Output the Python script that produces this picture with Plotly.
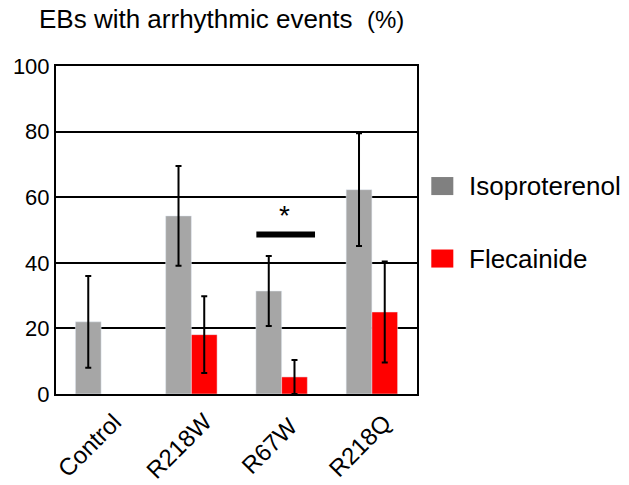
import plotly.graph_objects as go

categories = ["Control", "R218W", "R67W", "R218Q"]
iso_values = [22.0, 54.3, 31.4, 62.3]
iso_errors = [14.0, 15.2, 10.7, 17.2]
fle_values = [None, 18.1, 5.2, 25.0]
fle_errors = [None, 11.7, 5.2, 15.4]
series_names = ["Isoproterenol", "Flecainide"]
y_ticks = [0, 20, 40, 60, 80, 100]

GRAY = "#a6a6a6"
RED = "#ff0000"
FONT = "Liberation Sans, Arial, sans-serif"

fig = go.Figure()
fig.add_trace(go.Bar(
    x=categories, y=iso_values, name=series_names[0], marker_color=GRAY,
    error_y=dict(type="data", array=iso_errors, color="black", thickness=2, width=3),
))
fig.add_trace(go.Bar(
    x=categories, y=fle_values, name=series_names[1], marker_color=RED,
    error_y=dict(type="data", array=fle_errors, color="black", thickness=2, width=3),
))

# significance bar and asterisk for R67W
fig.add_shape(type="line", xref="x", yref="y", x0=1.72, x1=2.37, y0=48.6, y1=48.6,
              line=dict(color="black", width=6))
fig.add_annotation(xref="x", yref="y", x=2.03, y=54.5, text="*", showarrow=False,
                   font=dict(family=FONT, size=28, color="black"))

# rotated category labels, centred under each group
for c in categories:
    fig.add_annotation(xref="x", yref="paper", x=c, y=-0.158, xshift=-12,
                       text=c, textangle=-45, showarrow=False,
                       xanchor="center", yanchor="middle",
                       font=dict(family=FONT, size=24, color="black"))

# custom legend
leg = [(series_names[0], "#808080", 0.634), (series_names[1], RED, 0.413)]
for name, col, yy in leg:
    fig.add_shape(type="rect", xref="paper", yref="paper",
                  x0=1.0396, x1=1.1006, y0=yy - 0.0275, y1=yy + 0.0275,
                  fillcolor=col, line=dict(width=0))
    fig.add_annotation(xref="paper", yref="paper", x=1.138, y=yy, text=name,
                       xanchor="left", yanchor="middle", showarrow=False,
                       font=dict(family=FONT, size=26, color="black"))

fig.add_annotation(xref="paper", yref="paper", x=-0.053, y=1.09,
                   text="EBs with arrhythmic events&nbsp; <span style='font-size:24px'>(%)</span>",
                   xanchor="left", yanchor="bottom", showarrow=False,
                   font=dict(family=FONT, size=26, color="black"))

fig.update_layout(
    width=629, height=485,
    margin=dict(l=56, r=212, t=66, b=91),
    paper_bgcolor="white", plot_bgcolor="white",
    barmode="group", bargap=0.43, bargroupgap=0,
    showlegend=False,
    font=dict(family=FONT, color="black"),
    xaxis=dict(showline=True, linecolor="black", linewidth=2, mirror=True,
               range=[-0.5, 3.5], showticklabels=False, ticks="", showgrid=False),
    yaxis=dict(range=[0, 100], tickvals=y_ticks, showline=True, linecolor="black",
               linewidth=2, mirror=True, showgrid=True, gridcolor="black", gridwidth=2,
               tickfont=dict(size=22), ticks="", zeroline=False),
)

fig.write_html("out.html")
